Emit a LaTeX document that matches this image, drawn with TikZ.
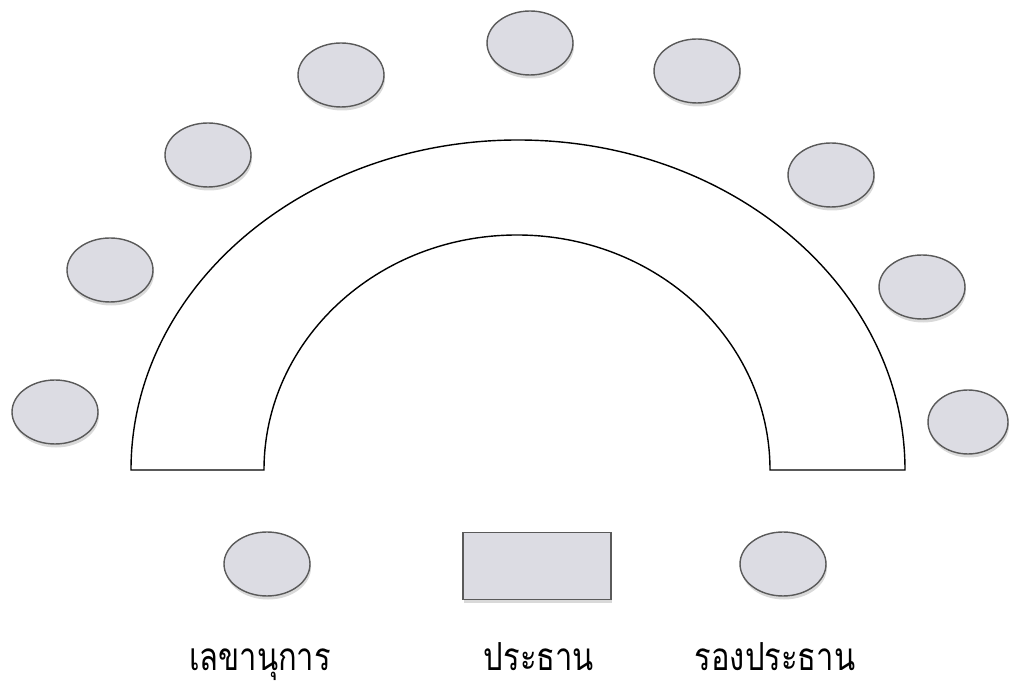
\documentclass[tikz,border=0pt]{standalone}
\usepackage{fontspec}
\newfontfamily\thaifont[Script=Thai,FakeStretch=0.8]{Loma}
\usepackage{tikz}
\usetikzlibrary{positioning,shapes.geometric,shadows}
\usepackage{xcolor}
\definecolor{seatgrey}{HTML}{DCDCE3}
\definecolor{seatline}{HTML}{5A5A5A}

\begin{document}
\begin{tikzpicture}[
  x=0.02cm,y=0.02cm,
  seat/.style={draw=seatline,thick,ellipse,fill=seatgrey,minimum width=1.72cm,minimum height=1.28cm,inner sep=0pt,
    drop shadow={opacity=0.3,shadow xshift=0.6pt,shadow yshift=-2pt}},
  head/.style={draw=seatline,thick,rectangle,fill=seatgrey,minimum width=2.96cm,minimum height=1.34cm,inner sep=0pt,
    drop shadow={opacity=0.3,shadow xshift=0.6pt,shadow yshift=-2pt}},
  tbl/.style={draw=black,line width=0.8pt},
  lbl/.style={font=\thaifont\fontsize{22}{25}\selectfont,anchor=base,inner sep=0pt,text depth=0.3em},
]
\useasboundingbox (0,0) rectangle (1011,686);
% ---------- horseshoe table ----------
\draw[tbl] (131,216) arc (180:0:387 and 330) -- (770,216) arc (0:180:253 and 235) -- cycle;
% ---------- seats round the table ----------
\node[seat] (s1) at (55,274) {};
\node[seat] (s2) at (110,416) {};
\node[seat] (s3) at (208,531) {};
\node[seat] (s4) at (341,611) {};
\node[seat] (s5) at (530,643) {};
\node[seat] (s6) at (697,615) {};
\node[seat] (s7) at (831,511) {};
\node[seat] (s8) at (922,399) {};
\node[seat,minimum width=1.6cm] (s9) at (968,264) {};
% ---------- front row ----------
\node[seat] (sec) at (267,122) {};
\node[head] (chair) at (537,120) {};
\node[seat] (vice) at (783,122) {};
\node[lbl] (secl) at (260,15) {เลขานุการ};
\node[lbl] (chairl) at (539,15) {ประธาน};
\node[lbl] (vicel) at (775,15) {รองประธาน};
\end{tikzpicture}
\end{document}
